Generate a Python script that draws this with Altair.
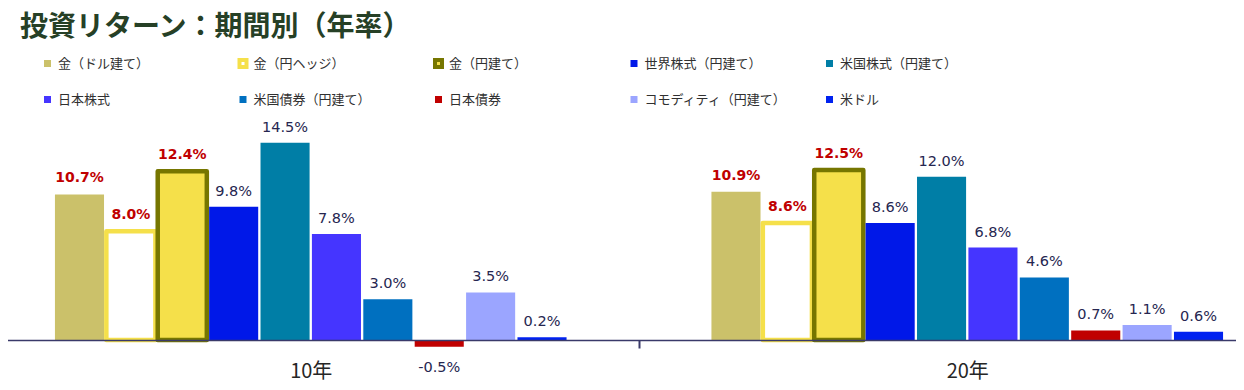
import altair as alt
import pandas as pd

periods = ["10年", "20年"]
series = [
    "金（ドル建て）", "金（円ヘッジ）", "金（円建て）", "世界株式（円建て）", "米国株式（円建て）",
    "日本株式", "米国債券（円建て）", "日本債券", "コモディティ（円建て）", "米ドル",
]
returns_10y = [10.7, 8.0, 12.4, 9.8, 14.5, 7.8, 3.0, -0.5, 3.5, 0.2]
returns_20y = [10.9, 8.6, 12.5, 8.6, 12.0, 6.8, 4.6, 0.7, 1.1, 0.6]
gold_series = ["金（ドル建て）", "金（円ヘッジ）", "金（円建て）"]

fill_colors = ["#CBC16A", "#FFFFFF", "#F5E04A", "#0018E8", "#007EA6",
               "#4535FF", "#0070C0", "#C00000", "#9BA5FF", "#0022F0"]
stroke_colors = ["rgba(0,0,0,0)", "#F5E04A", "#767600", "rgba(0,0,0,0)", "rgba(0,0,0,0)",
                 "rgba(0,0,0,0)", "rgba(0,0,0,0)", "rgba(0,0,0,0)", "rgba(0,0,0,0)", "rgba(0,0,0,0)"]

rows = []
for period, vals in zip(periods, [returns_10y, returns_20y]):
    for s, v in zip(series, vals):
        rows.append({"period": period, "series": s, "value": v,
                     "label": f"{v:.1f}%", "gold": s in gold_series})
df = pd.DataFrame(rows)

FONT_JP = "Noto Sans CJK JP"
FONT_NUM = "DejaVu Sans"
X_RANGE = [-25.5, 1287.5]

legend = alt.Legend(
    title=None, orient="none", legendX=33, legendY=-79, direction="horizontal",
    columns=5, gridAlign="all", symbolType="square", symbolSize=49, symbolStrokeWidth=4,
    labelFont=FONT_JP, labelFontSize=13, labelColor="#303030",
    columnPadding=29.5, rowPadding=13, labelOffset=4,
)

# x scale for the bars: bands narrowed so the ten bars of each period sit together
x_enc = alt.X(
    "period:N", sort=periods,
    scale=alt.Scale(range=X_RANGE, paddingInner=0.2207, paddingOuter=0.11035),
    axis=None,
)
xo_enc = alt.XOffset("series:N", sort=series,
                     scale=alt.Scale(paddingInner=0.045, paddingOuter=0))
y_enc = alt.Y("value:Q", scale=alt.Scale(domain=[0, 15], nice=False), axis=None)

base = alt.Chart(df)

bars = base.mark_bar(strokeJoin="round", strokeWidth=4.5).encode(
    x=x_enc, xOffset=xo_enc, y=y_enc,
    fill=alt.Fill("series:N", sort=series, scale=alt.Scale(domain=series, range=fill_colors), legend=legend),
    stroke=alt.Stroke("series:N", sort=series, scale=alt.Scale(domain=series, range=stroke_colors), legend=legend),
)

gold_labels = base.mark_text(font=FONT_NUM, fontSize=14, fontWeight="bold", color="#C00000",
                             baseline="alphabetic", dy=-12).encode(
    x=x_enc, xOffset=xo_enc, y=y_enc, text="label:N"
).transform_filter("datum.gold && datum.value >= 0")

other_labels = base.mark_text(font=FONT_NUM, fontSize=14.5, color="#262650",
                              baseline="alphabetic", dy=-11).encode(
    x=x_enc, xOffset=xo_enc, y=y_enc, text="label:N"
).transform_filter("!datum.gold && datum.value >= 0")

neg_labels = base.mark_text(font=FONT_NUM, fontSize=14.5, color="#262650",
                            baseline="alphabetic", dy=25).encode(
    x=x_enc, xOffset=xo_enc, y=y_enc, text="label:N"
).transform_filter("datum.value < 0")

data_layers = alt.layer(bars, gold_labels, other_labels, neg_labels)

# category axis: full-width bands so the only visible tick sits between the periods
axis_layer = base.mark_point(opacity=0, size=0).encode(
    x=alt.X(
        "period:N", sort=periods,
        scale=alt.Scale(range=X_RANGE, paddingInner=0, paddingOuter=0),
        axis=alt.Axis(title=None, labelFont=FONT_JP, labelFontSize=20, labelColor="#262626",
                      labelPadding=13, labelAngle=0, domainColor="#3A3A6A", domainWidth=1.5,
                      tickColor="#3A3A6A", tickWidth=2, tickSize=8, tickBand="extent", zindex=1),
    ),
)

chart = alt.layer(data_layers, axis_layer).resolve_scale(x="independent").properties(
    width=1228, height=204,
    autosize=alt.AutoSizeParams(type="none"),
    padding={"left": 0, "top": 128, "right": 0, "bottom": 50},
    title=alt.TitleParams("投資リターン：期間別（年率）", anchor="start", frame="group", font=FONT_JP,
                          fontSize=28, fontWeight="bold", color="#264026", dx=12, dy=-11),
).configure_view(stroke=None)

chart.save("out.html", embed_options={"renderer": "svg", "actions": False})
